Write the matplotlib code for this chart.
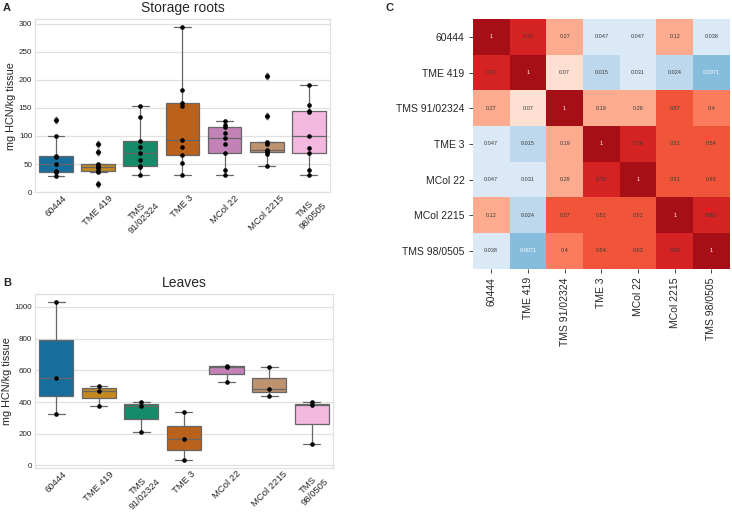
import numpy as np
import matplotlib
matplotlib.use("Agg")
import matplotlib.pyplot as plt
import seaborn as sns
from matplotlib.colors import ListedColormap, BoundaryNorm

# cultivar names
cultivars = ["60444", "TME 419", "TMS 91/02324", "TME 3", "MCol 22", "MCol 2215", "TMS 98/0505"]
box_labels = ["60444", "TME 419", "TMS\n91/02324", "TME 3", "MCol 22", "MCol 2215", "TMS\n98/0505"]

# storage roots, mg HCN/kg tissue
roots_60444 = [29, 35, 36, 37, 50, 62, 65, 99, 128]
roots_tme419 = [14, 36, 37, 42, 44, 47, 50, 72, 86]
roots_tms91 = [30, 44, 47, 58, 70, 81, 91, 134, 153]
roots_tme3 = [30, 52, 66, 80, 92, 154, 159, 181, 294]
roots_mcol22 = [30, 40, 70, 86, 97, 106, 115, 119, 127]
roots_mcol2215 = [47, 68, 71, 74, 75, 85, 89, 136, 207]
roots_tms98 = [31, 40, 70, 79, 100, 142, 144, 155, 190]

# leaves, mg HCN/kg tissue
leaves_60444 = [323, 551, 1032]
leaves_tme419 = [378, 470, 504]
leaves_tms91 = [209, 378, 401]
leaves_tme3 = [34, 167, 335]
leaves_mcol22 = [527, 624, 627]
leaves_mcol2215 = [441, 485, 620]
leaves_tms98 = [137, 382, 399]

roots = [roots_60444, roots_tme419, roots_tms91, roots_tme3,
         roots_mcol22, roots_mcol2215, roots_tms98]
leaves = [leaves_60444, leaves_tme419, leaves_tms91, leaves_tme3,
          leaves_mcol22, leaves_mcol2215, leaves_tms98]

# similarity matrix (panel C)
sim = np.array([
    [1, 0.72, 0.27, 0.047, 0.047, 0.12, 0.038],
    [0.72, 1, 0.07, 0.015, 0.031, 0.024, 0.0071],
    [0.27, 0.07, 1, 0.19, 0.29, 0.57, 0.4],
    [0.047, 0.015, 0.19, 1, 0.76, 0.51, 0.54],
    [0.047, 0.031, 0.29, 0.76, 1, 0.51, 0.63],
    [0.12, 0.024, 0.57, 0.51, 0.51, 1, 0.83],
    [0.038, 0.0071, 0.4, 0.54, 0.63, 0.83, 1],
])

sns.set_style("whitegrid")
plt.rcParams['font.family'] = ['Liberation Sans', 'DejaVu Sans']

fig = plt.figure(figsize=(7.32, 5.15), dpi=100)

palette = [sns.desaturate(c, 0.75) for c in sns.color_palette("colorblind", 7)]
line_gray = '#666666'
light = '#e0e0e0'


def draw_boxes(ax, data, title):
    pos = np.arange(len(data))
    bp = ax.boxplot(data, positions=pos, widths=0.8, patch_artist=True,
                    capwidths=0.4, whis=1.5,
                    boxprops=dict(edgecolor=line_gray, linewidth=0.9),
                    medianprops=dict(color=line_gray, linewidth=0.9),
                    whiskerprops=dict(color=line_gray, linewidth=0.9),
                    capprops=dict(color=line_gray, linewidth=0.9),
                    flierprops=dict(marker='d', markerfacecolor=line_gray,
                                    markeredgecolor=line_gray, markersize=3.5))
    for patch, c in zip(bp['boxes'], palette):
        patch.set_facecolor(c)
    for i, vals in enumerate(data):
        ax.plot(np.full(len(vals), i), vals, 'o', color='black', ms=2.3, zorder=4)
    ax.set_xlim(-0.5, len(data) - 0.5)
    ax.set_xticks(pos)
    ax.set_xticklabels(box_labels, rotation=45, ha='center', fontsize=6.8,
                       color='#262626', multialignment='center')
    ax.tick_params(axis='y', labelsize=5.8, labelcolor='#262626', pad=2, length=0)
    ax.tick_params(axis='x', pad=1, length=0)
    ax.grid(axis='x', visible=False)
    ax.grid(axis='y', color=light, linewidth=0.9)
    for s in ax.spines.values():
        s.set_color(light)
        s.set_linewidth(0.9)
    ax.set_ylabel('mg HCN/kg tissue', fontsize=7.8, labelpad=2)
    ax.set_title(title, fontsize=10, pad=5)


axA = fig.add_axes([0.0478, 0.627, 0.403, 0.336])
draw_boxes(axA, roots, 'Storage roots')

axB = fig.add_axes([0.0478, 0.0913, 0.407, 0.338])
draw_boxes(axB, leaves, 'Leaves')

# heatmap
axC = fig.add_axes([0.646, 0.478, 0.351, 0.485])
bounds = [0, 0.01, 0.028, 0.06, 0.1, 0.35, 0.45, 0.7, 0.9, 1.01]
cell_colors = ['#86bcdc', '#bdd7ec', '#dbe9f6', '#fee0d2', '#fcab8f',
               '#fb7c5c', '#f05539', '#d42322', '#a50f15']
cmap = ListedColormap(cell_colors)
norm = BoundaryNorm(bounds, cmap.N)
n = len(cultivars)
axC.pcolormesh(np.arange(n + 1), np.arange(n + 1), sim, cmap=cmap, norm=norm)
axC.set_xlim(0, n)
axC.set_ylim(n, 0)
for i in range(n):
    for j in range(n):
        v = sim[i, j]
        tc = 'white' if (v >= 0.9 or v < 0.01) else '#3a3a3a'
        axC.text(j + 0.5, i + 0.5, f'{v:g}', ha='center', va='center',
                 fontsize=4, color=tc)
axC.grid(False)
for s in axC.spines.values():
    s.set_visible(False)
axC.set_xticks(np.arange(n) + 0.5)
axC.set_yticks(np.arange(n) + 0.5)
axC.set_xticklabels(cultivars, rotation=90, fontsize=7.5, color='#262626')
axC.set_yticklabels(cultivars, rotation=0, fontsize=7.5, color='#262626')
axC.tick_params(length=3, width=0.6, color='#262626', pad=3, left=True, bottom=True)

# panel letters
fig.text(0.004, 0.984, 'A', fontsize=8, fontweight='bold', va='center')
fig.text(0.004, 0.450, 'B', fontsize=8, fontweight='bold', va='center')
fig.text(0.527, 0.984, 'C', fontsize=8, fontweight='bold', va='center')

fig.savefig('out.png', dpi=100)
